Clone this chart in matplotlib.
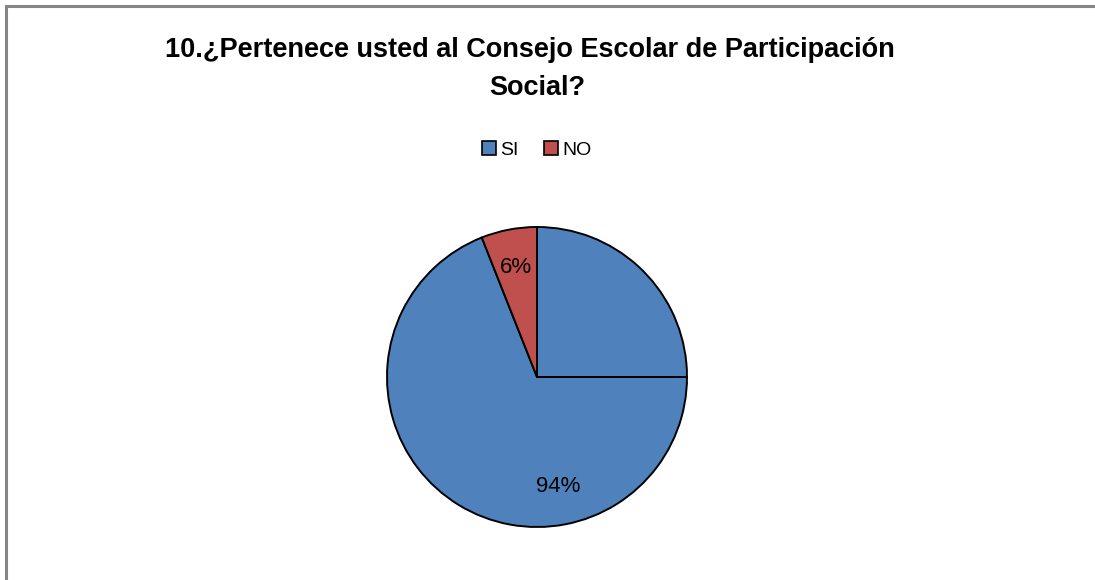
import matplotlib.pyplot as plt
from matplotlib.patches import Rectangle, Patch

# Pie chart: "10. ¿Pertenece usted al Consejo Escolar de Participación Social?"
labels = ["SI", "NO"]
values = [94, 6]
colors = ["#4F81BD", "#C0504D"]

W, H = 1095, 580
fig = plt.figure(figsize=(W / 100, H / 100), dpi=100)

# chart area frame (only top/left edges fall inside the picture)
fig.patches.append(Rectangle((6 / W, -0.05), 1.2, 1 - 6 / H + 0.05, transform=fig.transFigure,
                             fill=False, edgecolor="#868686", linewidth=2.2))

fig.text(530 / W, 1 - 50 / H, "10.¿Pertenece usted al Consejo Escolar de Participación",
         ha="center", va="center", fontsize=19.5, fontweight="bold", family="Liberation Sans")
fig.text(537 / W, 1 - 88 / H, "Social?",
         ha="center", va="center", fontsize=19.5, fontweight="bold", family="Liberation Sans")

# pie axes: centre (537, 377), radius 150 px
ax = fig.add_axes([387 / W, 1 - 527 / H, 300 / W, 300 / H])
wedges, texts, autotexts = ax.pie(
    values, colors=colors, startangle=90, counterclock=False,
    autopct="%1.0f%%", pctdistance=0.74,
    wedgeprops=dict(edgecolor="black", linewidth=1.4, clip_on=False),
    textprops=dict(fontsize=16, family="Liberation Sans"))
# Excel drew an extra split line at 3 o'clock inside the SI slice
ax.plot([0, wedges[0].r], [0, 0], color="black", linewidth=1.4, clip_on=False)
ax.set_xlim(-1.0, 1.0)
ax.set_ylim(-1.0, 1.0)
ax.set_aspect("equal")
ax.axis("off")

handles = [Patch(facecolor=c, edgecolor="black", linewidth=1.2) for c in colors]
fig.legend(handles, labels, loc="center", bbox_to_anchor=(537 / W, 1 - 150 / H), ncol=2,
           frameon=False, handlelength=0.7, handleheight=0.7,
           handletextpad=0.25, columnspacing=1.3, prop=dict(family="Liberation Sans", size=14))

fig.savefig("out.png", dpi=100)
